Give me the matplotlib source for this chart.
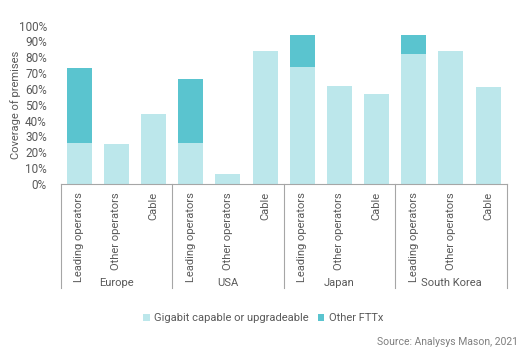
import matplotlib
matplotlib.use('Agg')
from matplotlib import pyplot as plt
import numpy as np

# 数据
regions = ['Europe', 'USA', 'Japan', 'South Korea']
categories = ['Leading operators', 'Other operators', 'Cable']
gigabit = [26, 25, 44, 26, 6, 84, 74, 62, 57, 82, 84, 61]
other_fttx = [47, 0, 0, 40, 0, 0, 20, 0, 0, 12, 0, 0]

light = '#bce7eb'
dark = '#5ac4cf'
grey = '#595959'

plt.rcParams['font.family'] = ['Roboto', 'DejaVu Sans']

fig = plt.figure(figsize=(5.21, 3.51), dpi=100)
ax = fig.add_axes([0.1165, 0.476, 0.856, 0.451])

x = np.arange(len(gigabit))
ax.bar(x, gigabit, width=0.67, color=light, label='Gigabit capable or upgradeable')
ax.bar(x, other_fttx, width=0.67, bottom=gigabit, color=dark, label='Other FTTx')

ax.set_xlim(-0.5, len(gigabit) - 0.5)
ax.set_ylim(0, 100)
ax.set_yticks(range(0, 101, 10))
ax.set_yticklabels([f'{v}%' for v in range(0, 101, 10)])
ax.set_ylabel('Coverage of premises', fontsize=8, color=grey)
ax.yaxis.set_label_coords(-0.088, 0.5)
ax.tick_params(axis='y', length=0, labelsize=8.5, labelcolor=grey, pad=10)

ax.set_xticks(x)
ax.set_xticklabels(categories * len(regions), rotation=90, va='top')
ax.tick_params(axis='x', length=0, labelsize=8, labelcolor=grey, pad=6)

for s in ['top', 'right', 'left']:
    ax.spines[s].set_visible(False)
ax.spines['bottom'].set_color('#a6a6a6')
ax.spines['bottom'].set_linewidth(0.8)

# 分组线和分组名
n = len(categories)
for i in range(len(regions) + 1):
    xpos = i * n - 0.5
    ax.plot([xpos, xpos], [0, -66], color='#a6a6a6', lw=0.8, clip_on=False)
for i, r in enumerate(regions):
    ax.text(i * n + 1, -62.5, r, ha='center', va='center', fontsize=8, color=grey)

fig.legend(loc='center', bbox_to_anchor=(0.505, 0.094), ncol=2, frameon=False,
           fontsize=8, labelcolor=grey, handlelength=0.6, handleheight=0.6,
           handletextpad=0.4, columnspacing=0.8)
fig.text(0.994, 0.026, 'Source: Analysys Mason, 2021', ha='right', va='center',
         fontsize=7.5, color='#7f7f7f')

plt.savefig('out.png', dpi=100)
